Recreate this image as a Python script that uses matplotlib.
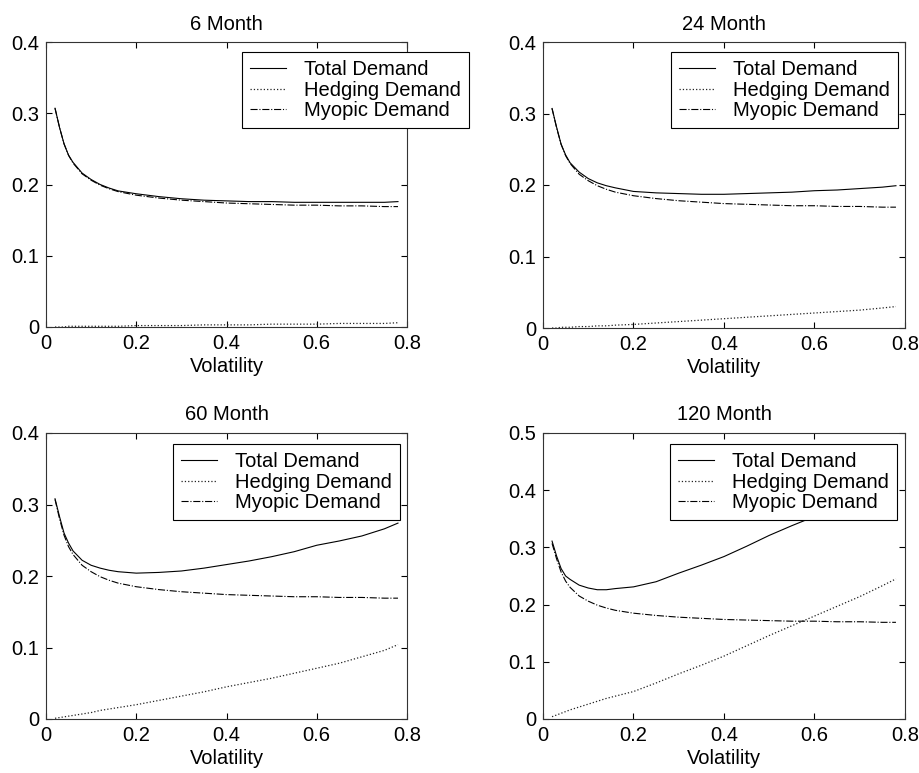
import matplotlib
matplotlib.use("Agg")
import matplotlib.pyplot as plt

plt.rcParams['font.family'] = ['Liberation Sans', 'DejaVu Sans']

volatility = [0.02, 0.03, 0.04, 0.05, 0.06, 0.08, 0.10, 0.12, 0.14, 0.16, 0.20, 0.25,
              0.30, 0.35, 0.40, 0.45, 0.50, 0.55, 0.60, 0.65, 0.70, 0.75, 0.78]

myopic = [0.307, 0.280, 0.257, 0.241, 0.230, 0.215, 0.206, 0.199, 0.194, 0.190, 0.185, 0.181,
          0.178, 0.176, 0.174, 0.173, 0.172, 0.171, 0.171, 0.170, 0.170, 0.169, 0.169]

hedge_6 = [0.000, 0.000, 0.000, 0.001, 0.001, 0.001, 0.001, 0.001, 0.001, 0.001, 0.002, 0.002,
           0.002, 0.003, 0.003, 0.003, 0.004, 0.004, 0.004, 0.005, 0.005, 0.005, 0.006]
total_6 = [0.307, 0.280, 0.257, 0.241, 0.231, 0.216, 0.207, 0.200, 0.195, 0.191, 0.187, 0.183,
           0.180, 0.178, 0.177, 0.176, 0.176, 0.175, 0.175, 0.175, 0.175, 0.175, 0.176]

hedge_24 = [0.000, 0.000, 0.001, 0.001, 0.001, 0.002, 0.002, 0.003, 0.003, 0.004, 0.005, 0.007,
            0.009, 0.011, 0.013, 0.015, 0.017, 0.019, 0.021, 0.023, 0.025, 0.028, 0.030]
total_24 = [0.307, 0.281, 0.257, 0.242, 0.231, 0.218, 0.209, 0.203, 0.199, 0.196, 0.191, 0.189,
            0.188, 0.187, 0.187, 0.188, 0.189, 0.190, 0.192, 0.193, 0.195, 0.197, 0.199]

hedge_60 = [0.001, 0.002, 0.003, 0.004, 0.005, 0.007, 0.009, 0.012, 0.014, 0.016, 0.020, 0.026,
            0.032, 0.038, 0.045, 0.051, 0.057, 0.064, 0.071, 0.078, 0.087, 0.096, 0.104]
total_60 = [0.308, 0.283, 0.260, 0.246, 0.235, 0.222, 0.215, 0.211, 0.208, 0.206, 0.204, 0.205,
            0.207, 0.211, 0.216, 0.221, 0.227, 0.234, 0.243, 0.249, 0.256, 0.266, 0.274]

hedge_120 = [0.004, 0.007, 0.010, 0.013, 0.016, 0.021, 0.026, 0.031, 0.036, 0.040, 0.048, 0.063,
             0.079, 0.094, 0.110, 0.128, 0.146, 0.163, 0.180, 0.197, 0.214, 0.233, 0.245]
total_120 = [0.311, 0.285, 0.263, 0.250, 0.244, 0.234, 0.229, 0.226, 0.226, 0.228, 0.231, 0.240,
             0.255, 0.269, 0.284, 0.302, 0.321, 0.338, 0.354, 0.370, 0.386, 0.403, 0.414]

titles = ["6 Month", "24 Month", "60 Month", "120 Month"]
totals = [total_6, total_24, total_60, total_120]
hedges = [hedge_6, hedge_24, hedge_60, hedge_120]
ymaxes = [0.4, 0.4, 0.4, 0.5]
labels = ["Total Demand", "Hedging Demand", "Myopic Demand"]
x_ticks = [0, 0.2, 0.4, 0.6, 0.8]
x_ticklabels = ["0", "0.2", "0.4", "0.6", "0.8"]

W, H = 920, 773
fig = plt.figure(figsize=(W / 100, H / 100), dpi=100)

# axes boxes in pixels: (left, top, right, bottom)
boxes = [(46, 42, 407, 327), (543, 42, 905, 328), (46, 433, 407, 719), (543, 433, 905, 719)]
legend_left = [242, 671, 173, 670]
legend_top = [52, 52, 444, 444]

fs = 14.5
for i in range(4):
    l, t, r, b = boxes[i]
    ax = fig.add_axes([l / W, 1 - b / H, (r - l) / W, (b - t) / H])
    ax.plot(volatility, totals[i], '-', color='black', lw=0.8, label=labels[0])
    ax.plot(volatility, hedges[i], ':', color='#222222', lw=0.9, label=labels[1])
    ax.plot(volatility, myopic, '-.', color='black', lw=0.8, label=labels[2])
    ax.set_xlim(0, 0.8)
    ax.set_ylim(0, ymaxes[i])
    ax.set_xticks(x_ticks)
    ax.set_xticklabels(x_ticklabels)
    yt = [k / 10 for k in range(int(round(ymaxes[i] * 10)) + 1)]
    ax.set_yticks(yt)
    ax.set_yticklabels(["0"] + [f"{v:.1f}" for v in yt[1:]])
    ax.tick_params(direction='in', top=True, right=True, length=4, width=0.8,
                   labelsize=fs, pad=5)
    for s in ax.spines.values():
        s.set_linewidth(0.8)
        s.set_color('#333333')
    ax.set_title(titles[i], fontsize=fs, pad=9)
    ax.set_xlabel("Volatility", fontsize=fs, labelpad=3)
    ax_w = r - l
    ax_h = b - t
    anchor = ((legend_left[i] - l) / ax_w, (b - legend_top[i]) / ax_h)
    leg = ax.legend(loc='upper left', bbox_to_anchor=anchor, borderaxespad=0,
                    fontsize=fs, fancybox=False, framealpha=1, edgecolor='black',
                    handlelength=1.8, handletextpad=0.9, labelspacing=0.08,
                    borderpad=0.4)
    leg.get_frame().set_linewidth(0.8)
    leg.set_zorder(10)

fig.savefig("out.png", dpi=100)
